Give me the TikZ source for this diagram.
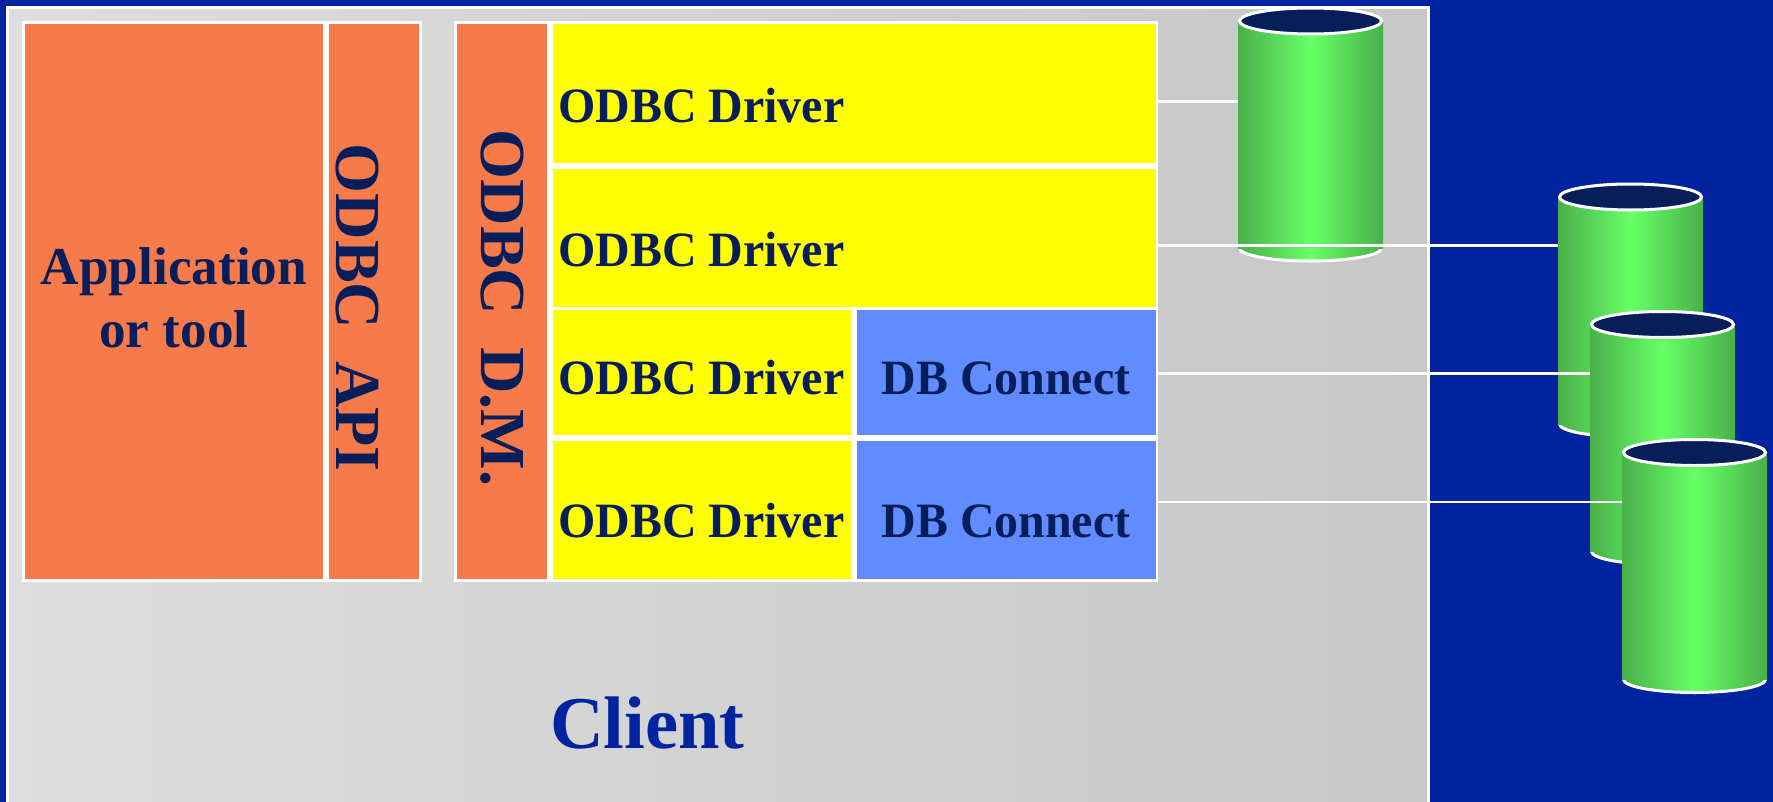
\documentclass[tikz,border=0pt]{standalone}
\usepackage{fontspec}
\setmainfont{Liberation Serif}
\newfontfamily\boxfont[FakeStretch=0.97]{Liberation Serif}
\usepackage{tikz}
\usetikzlibrary{shapes,positioning}
\definecolor{pagebg}{RGB}{0,36,160}
\definecolor{navy}{RGB}{8,30,90}
\definecolor{boxorange}{RGB}{247,122,74}
\definecolor{boxblue}{RGB}{96,140,255}
\definecolor{boxyellow}{RGB}{255,255,0}
\definecolor{cylside}{RGB}{74,176,74}
\definecolor{cylmid}{RGB}{102,255,102}
\tikzset{
	box/.style={rectangle,draw=white,line width=2.8bp,inner sep=0pt,outer sep=0pt,anchor=north west},
	appbox/.style={box,fill=boxorange,minimum height=557.8bp},
	drvbox/.style={box,fill=boxyellow},
	dbbox/.style={box,fill=boxblue,minimum width=301.6bp},
	boxtext/.style={inner sep=0pt,text=navy,font=\boxfont\bfseries\fontsize{49.4bp}{60bp}\selectfont},
	bigtext/.style={inner sep=0pt,text=navy,font=\bfseries\fontsize{64.2bp}{75bp}\selectfont},
	cylbody/.style={rectangle,inner sep=0pt,outer sep=0pt,minimum width=145bp,left color=cylside,right color=cylside,middle color=cylmid},
	wire/.style={draw=white,line width=2.6bp}
}
\begin{document}
\begin{tikzpicture}[x=1bp,y=-1bp]
	\path[use as bounding box,clip] (0,0) rectangle (1773,802);
	\fill[pagebg] (0,0) rectangle (1773,802);
	\node[box,minimum width=1421.4bp,minimum height=820bp,left color=black!13,right color=black!22] (client) at (7.4,7.4) {};
	\node[inner sep=0pt,anchor=base west,text=pagebg,font=\bfseries\fontsize{74.5bp}{80bp}\selectfont] (clienttext) at (550,748.7) {Client};

	\node[appbox,minimum width=301.2bp] (app) at (23.2,22.9) {};
	\node[appbox,minimum width=93.5bp] (api) [right=2.8bp of app] {};
	\node[appbox,minimum width=92.8bp] (dm) at (455.6,22.9) {};
	\node[drvbox,minimum width=605.4bp,minimum height=141.8bp] (drva) at (551.5,22.9) {};
	\node[drvbox,minimum width=605.4bp,minimum height=141.2bp] (drvb) [below=2.6bp of drva] {};
	\node[drvbox,minimum width=301.1bp,minimum height=127.9bp] (drvc) [below right=0bp and 0bp of drvb.south west] {};
	\node[dbbox,minimum height=127.9bp] (dbc) [right=2.7bp of drvc] {};
	\node[drvbox,minimum width=301.1bp,minimum height=141.4bp] (drvd) [below=2.9bp of drvc] {};
	\node[dbbox,minimum height=141.4bp] (dbd) [right=2.7bp of drvd] {};

	\node[align=center,inner sep=0pt,text=navy,font=\bfseries\fontsize{53.2bp}{63bp}\selectfont] (apptext) at (174,298) {Application\\or tool};
	\node[bigtext,rotate=-90,anchor=base west] (apitext) at (336.5,143.5) {ODBC\ \ API};
	\node[bigtext,rotate=-90,anchor=base west] (dmtext) at (481,129.5) {ODBC\ \ D.M.};
	\node[boxtext,anchor=base west] (drvatext) at (558.2,122) {ODBC Driver};
	\node[boxtext,anchor=base west] (drvbtext) at (558.2,266) {ODBC Driver};
	\node[boxtext,anchor=base west] (drvctext) at (558.2,394) {ODBC Driver};
	\node[boxtext,anchor=base west] (drvdtext) at (558.2,537.3) {ODBC Driver};
	\node[boxtext,anchor=base] (dbctext) at (1006,394) {DB Connect};
	\node[boxtext,anchor=base] (dbdtext) at (1006,537.3) {DB Connect};

	\foreach \name/\cx/\cy in {cyla/1310.5/21,cylb/1630.5/197,cylc/1662.5/324.5,cyld/1694.5/452.5} {
		\node[ellipse,draw=white,line width=3bp,inner sep=0pt,minimum width=142bp,minimum height=26bp,left color=cylside,right color=cylside,middle color=cylmid] (\name bot) at (\cx,\cy+227) {};
		\node[cylbody,anchor=north,minimum height=227bp] (\name) at (\cx,\cy) {};
		\node[ellipse,draw=white,line width=3bp,inner sep=0pt,minimum width=142bp,minimum height=26bp,fill=navy] (\name top) at (\cx,\cy) {};
	}

	\coordinate (wirea) at (0,101.7);
	\coordinate (wireb) at (0,245.7);
	\coordinate (wirec) at (0,373.6);
	\coordinate (wired) at (0,501.8);
	\draw[wire] (drva.east |- wirea) -- (cyla.west |- wirea);
	\draw[wire] (drvb.east |- wireb) -- (cylb.west |- wireb);
	\draw[wire] (dbc.east |- wirec) -- (cylc.west |- wirec);
	\draw[wire] (dbd.east |- wired) -- (cyld.west |- wired);
\end{tikzpicture}
\end{document}
